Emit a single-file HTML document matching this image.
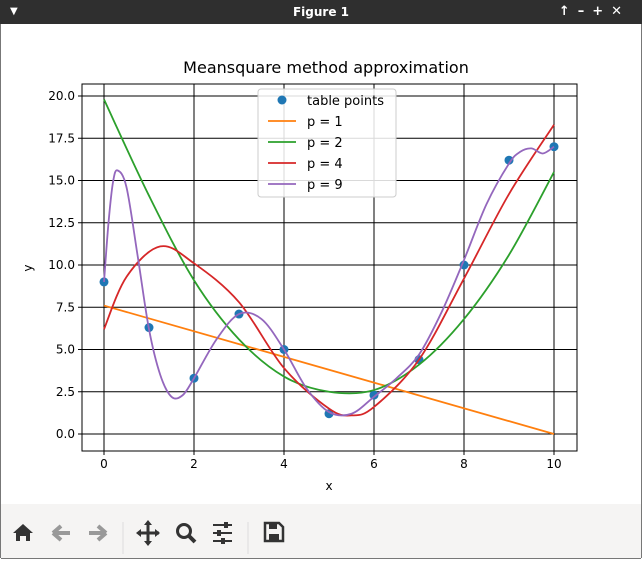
<!DOCTYPE html>
<html><head><meta charset="utf-8"><style>
body{margin:0;width:642px;height:559px;overflow:hidden;background:#fff;font-family:"DejaVu Sans","Liberation Sans",sans-serif}
#titlebar{position:absolute;left:0;top:0;width:642px;height:24px;background:#2f2f2f;color:#fff;font-size:12px;font-weight:bold;text-align:center;line-height:24px}
#win{position:absolute;left:0;top:24px;width:640px;height:533px;border:1px solid #777;border-top:none}
#toolbar{position:absolute;left:1px;top:504px;width:640px;height:54px;background:#f5f4f3;border-bottom:1px solid #777}
</style></head><body>
<div id="titlebar">Figure 1
<span style="position:absolute;left:10px;top:0;font-size:10px">▼</span>
<span style="position:absolute;right:12px;top:0;font-size:13px;letter-spacing:8px">↑–+✕</span></div>
<div id="win"></div>
<svg width="642" height="559" style="position:absolute;left:0;top:0" id="chart">
<text x="326" y="73" font-size="16" text-anchor="middle" font-family="DejaVu Sans, Liberation Sans, sans-serif">Meansquare method approximation</text>
<g id="grid"></g>
<g id="axes"></g>
<g id="series"></g>
<text x="329" y="490" font-size="12" text-anchor="middle">x</text>
<text x="32" y="268" font-size="12" text-anchor="middle" transform="rotate(-90 32 268)">y</text>
<g id="legend"></g>
</svg>
<div id="toolbar">
<svg width="640" height="54">
<g><path d="M12 29 L22 20 L32 29 L29 29 L29 37 L25 37 L25 32 L19 32 L19 37 L15 37 L15 29Z" fill="#333"/></g>
<g><path d="M52 29 L60 22 M52 29 L60 36 M52 29 L69 29" stroke="#999" stroke-width="4" fill="none"/></g>
<g><path d="M105 29 L97 22 M105 29 L97 36 M105 29 L88 29" stroke="#999" stroke-width="4" fill="none"/></g>
<line x1="122" y1="18" x2="122" y2="50" stroke="#ddd"/>
<g><path d="M147 18 L147 40 M137 29 L158 29" stroke="#333" stroke-width="3"/><path d="M143 21 L147 16 L151 21Z M143 37 L147 42 L151 37Z M140 25 L135 29 L140 33Z M154 25 L159 29 L154 33Z" fill="#333"/></g>
<g><circle cx="183" cy="27" r="6.5" stroke="#333" stroke-width="3" fill="none"/><path d="M188 32 L194 38" stroke="#333" stroke-width="4"/></g>
<g><path d="M212 21 L231 21 M212 29 L231 29 M212 37 L231 37" stroke="#333" stroke-width="2"/><rect x="223" y="18" width="4" height="6" fill="#333"/><rect x="216" y="26" width="4" height="6" fill="#333"/><rect x="220" y="34" width="4" height="6" fill="#333"/></g>
<line x1="247" y1="18" x2="247" y2="50" stroke="#ddd"/>
<g><path d="M264 19 L278 19 L282 23 L282 37 L264 37Z" stroke="#333" stroke-width="2.5" fill="none"/><rect x="268" y="20" width="8" height="5" fill="#333"/><rect x="268" y="30" width="10" height="6" fill="#333"/></g>
</svg></div>
<script>
const xTicks=[0,2,4,6,8,10];
const yTicks=[0,2.5,5,7.5,10,12.5,15,17.5,20];
const yTickLabels=["0.0","2.5","5.0","7.5","10.0","12.5","15.0","17.5","20.0"];
const pointsX=[0,1,2,3,4,5,6,7,8,9,10];
const pointsY=[9.0,6.3,3.3,7.1,5.0,1.2,2.3,4.4,10.0,16.2,17.0];
const p1X=[0,10];
const p1Y=[7.6,0.0];
const p2X=[0,1,2,3,4,5,6,7,8,9,10];
const p2Y=[19.8,14.1,9.1,5.6,3.4,2.5,2.6,4.1,6.8,10.6,15.5];
const p4X=[0,0.5,1.25,2,3,4,5,5.5,6,7,8,9,10];
const p4Y=[6.2,9.3,11.1,10.1,7.8,3.9,1.5,1.1,1.6,4.4,9.2,14.2,18.3];
const p9X=[0,0.1,0.2,0.3,0.5,0.75,1,1.25,1.5,1.75,2,2.5,3,3.5,4,4.5,5,5.5,6,6.5,7,7.5,8,8.5,9,9.25,9.5,9.75,10];
const p9Y=[9.0,12.5,14.9,15.6,14.6,10.5,6.2,3.5,2.2,2.3,3.3,5.6,7.1,6.8,5.0,2.7,1.3,1.2,2.2,3.3,4.7,7.2,10.3,13.6,16.0,16.7,16.9,16.6,17.0];
const L=82,R=577,T=84,B=451;
const sx=v=>104+45*v, sy=v=>434-16.9*v;
const NS="http://www.w3.org/2000/svg";
function mk(tag,attrs,parent){const e=document.createElementNS(NS,tag);for(const k in attrs)e.setAttribute(k,attrs[k]);parent.appendChild(e);return e;}
const grid=document.getElementById('grid'),axes=document.getElementById('axes'),series=document.getElementById('series'),legend=document.getElementById('legend');
xTicks.forEach(t=>{
 const g=mk('line',{x1:sx(t),x2:sx(t),y1:T,y2:B+4,stroke:'#000','stroke-width':1},grid);
 
 
 const tx=mk('text',{x:sx(t),y:B+17,'font-size':12,'text-anchor':'middle'},axes);tx.textContent=t;
 
 
});
yTicks.forEach((t,i)=>{
 const g=mk('line',{x1:L-4,x2:R,y1:sy(t),y2:sy(t),stroke:'#000','stroke-width':1},grid);
 
 
 const tx=mk('text',{x:L-7,y:sy(t)+4,'font-size':12,'text-anchor':'end'},axes);tx.textContent=yTickLabels[i];
 
 
});
const fr=mk('rect',{x:L,y:T,width:R-L,height:B-T,fill:'none',stroke:'#000','stroke-width':1},axes);


function smooth(xs,ys){
 const P=xs.map((x,i)=>[sx(x),sy(ys[i])]);
 let d='M'+P[0][0]+' '+P[0][1];
 for(let i=0;i<P.length-1;i++){
  const p0=P[Math.max(0,i-1)],p1=P[i],p2=P[i+1],p3=P[Math.min(P.length-1,i+2)];
  const c1=[p1[0]+(p2[0]-p0[0])/6,p1[1]+(p2[1]-p0[1])/6],c2=[p2[0]-(p3[0]-p1[0])/6,p2[1]-(p3[1]-p1[1])/6];
  d+=` C${c1[0]} ${c1[1]} ${c2[0]} ${c2[1]} ${p2[0]} ${p2[1]}`;
 }
 return d;
}
const defs=[[p1X,p1Y,'#ff7f0e','line-p1'],[p2X,p2Y,'#2ca02c','line-p2'],[p4X,p4Y,'#d62728','line-p4'],[p9X,p9Y,'#9467bd','line-p9']];
pointsX.forEach((x,i)=>{
 const c=mk('circle',{cx:sx(x),cy:sy(pointsY[i]),r:4.5,fill:'#1f77b4'},series);
 
 
});
defs.forEach(d=>{
 const p=mk('path',{d:smooth(d[0],d[1]),stroke:d[2],'stroke-width':1.8,fill:'none'},series);
 
 
});
const lb=mk('rect',{x:258,y:89,width:138,height:108,rx:3,fill:'#fff','fill-opacity':0.85,stroke:'#ccc'},legend);


const labs=['table points','p = 1','p = 2','p = 4','p = 9'],cols=['#1f77b4','#ff7f0e','#2ca02c','#d62728','#9467bd'];
labs.forEach((s,i)=>{
 const y=100+i*21;
 let m;
 if(i==0){m=mk('circle',{cx:282,cy:y,r:4.5,fill:cols[i]},legend);}
 else{m=mk('line',{x1:268,x2:296,y1:y,y2:y,stroke:cols[i],'stroke-width':1.8},legend);}
 
 
 const t=mk('text',{x:307,y:y+5,'font-size':13},legend);t.textContent=s;
 
 
});
</script>
</body></html>
